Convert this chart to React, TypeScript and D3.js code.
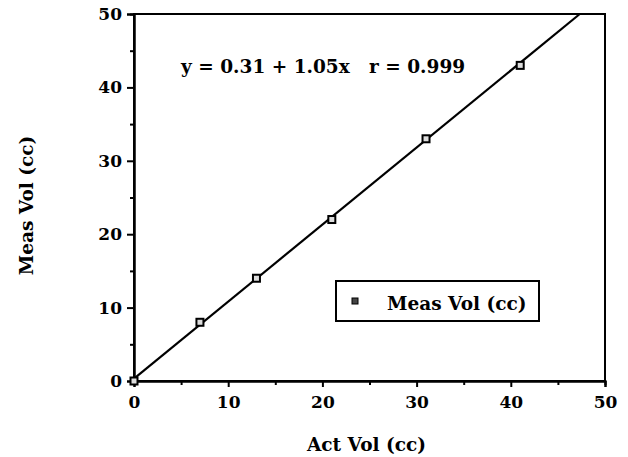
import React, { useEffect, useRef } from 'react';
import * as d3 from 'd3';

const actVol = [0, 7, 13, 21, 31, 41];
const measVol = [0, 8, 14, 22, 33, 43];
const majorTicks = [0, 10, 20, 30, 40, 50];
const minorTicks = [5, 15, 25, 35, 45];
const fitIntercept = 0.31;
const fitSlope = 1.05;
const equationLabel = 'y = 0.31 + 1.05x   r = 0.999';
const seriesName = 'Meas Vol (cc)';
const xTitle = 'Act Vol (cc)';
const yTitle = 'Meas Vol (cc)';

const FONT = '"DejaVu Serif", serif';

function App() {
  const svgRef = useRef<SVGSVGElement>(null);

  useEffect(() => {
    const svg = d3.select(svgRef.current);
    svg.selectAll('*').remove();

    const width = 628;
    const height = 457;
    const margin = { top: 14, right: 23, bottom: 76, left: 134 };
    const innerWidth = width - margin.left - margin.right;
    const innerHeight = height - margin.top - margin.bottom;

    const x = d3.scaleLinear().domain([0, 50]).range([0, innerWidth]);
    const y = d3.scaleLinear().domain([0, 50]).range([innerHeight, 0]);

    const g = svg.append('g').attr('transform', `translate(${margin.left},${margin.top})`);

    // frame
    g.append('rect')
      .attr('x', 0).attr('y', 0)
      .attr('width', innerWidth).attr('height', innerHeight)
      .attr('fill', 'none').attr('stroke', '#000').attr('stroke-width', 2);

    const xAxis = g.append('g')
      .attr('transform', `translate(0,${innerHeight})`)
      .call(d3.axisBottom(x).tickValues(majorTicks).tickSize(6).tickPadding(9).tickFormat(d3.format('d')));
    xAxis.append('g').call(d3.axisBottom(x).tickValues(minorTicks).tickSize(4).tickFormat(() => ''));

    const yAxis = g.append('g')
      .call(d3.axisLeft(y).tickValues(majorTicks).tickSize(7).tickPadding(5).tickFormat(d3.format('d')));
    yAxis.append('g').call(d3.axisLeft(y).tickValues(minorTicks).tickSize(4).tickFormat(() => ''));

    svg.selectAll('.domain').attr('stroke-width', 2);
    svg.selectAll('.tick line').attr('stroke-width', 2);
    svg.selectAll('.tick text')
      .attr('font-family', FONT)
      .attr('font-weight', 'bold')
      .attr('font-size', 17)
      .attr('fill', '#000');

    // fit line
    const xEnd = (50 - fitIntercept) / fitSlope;
    const fitData = [0, xEnd];
    g.append('path')
      .datum(fitData)
      .attr('fill', 'none')
      .attr('stroke', '#000')
      .attr('stroke-width', 2.2)
      .attr('d', d3.line<number>().x(d => x(d)).y(d => y(fitIntercept + fitSlope * d)));

    // points
    g.selectAll('.pt')
      .data(actVol)
      .enter()
      .append('rect')
      .attr('class', 'pt')
      .attr('x', d => x(d) - 3.5)
      .attr('y', (d, i) => y(measVol[i]) - 3.5)
      .attr('width', 7)
      .attr('height', 7)
      .attr('fill', '#ddd')
      .attr('stroke', '#000')
      .attr('stroke-width', 2);

    g.append('text')
      .attr('x', x(5))
      .attr('y', y(42))
      .attr('font-family', FONT)
      .attr('font-weight', 'bold')
      .attr('font-size', 18.5)
      .attr('xml:space', 'preserve')
      .style('white-space', 'pre')
      .text(equationLabel);

    // legend
    const legend = svg.append('g').attr('transform', 'translate(336,281)');
    legend.append('rect')
      .attr('width', 203).attr('height', 40)
      .attr('fill', '#fff').attr('stroke', '#000').attr('stroke-width', 2);
    legend.append('rect')
      .attr('x', 16).attr('y', 17).attr('width', 6).attr('height', 6)
      .attr('fill', '#444').attr('stroke', '#000').attr('stroke-width', 1);
    legend.append('text')
      .attr('x', 51).attr('y', 29)
      .attr('font-family', FONT)
      .attr('font-weight', 'bold')
      .attr('font-size', 18.5)
      .text(seriesName);

    svg.append('text')
      .attr('x', margin.left + innerWidth / 2 - 3)
      .attr('y', 451)
      .attr('text-anchor', 'middle')
      .attr('font-family', FONT)
      .attr('font-weight', 'bold')
      .attr('font-size', 18.5)
      .text(xTitle);

    svg.append('text')
      .attr('transform', `translate(33,${margin.top + innerHeight / 2 + 8}) rotate(-90)`)
      .attr('text-anchor', 'middle')
      .attr('font-family', FONT)
      .attr('font-weight', 'bold')
      .attr('font-size', 18.5)
      .text(yTitle);
  }, []);

  return (
    <svg
      ref={svgRef}
      width={628}
      height={457}
      style={{ position: 'absolute', left: 0, top: 0, background: '#fff' }}
    />
  );
}

export default App;
